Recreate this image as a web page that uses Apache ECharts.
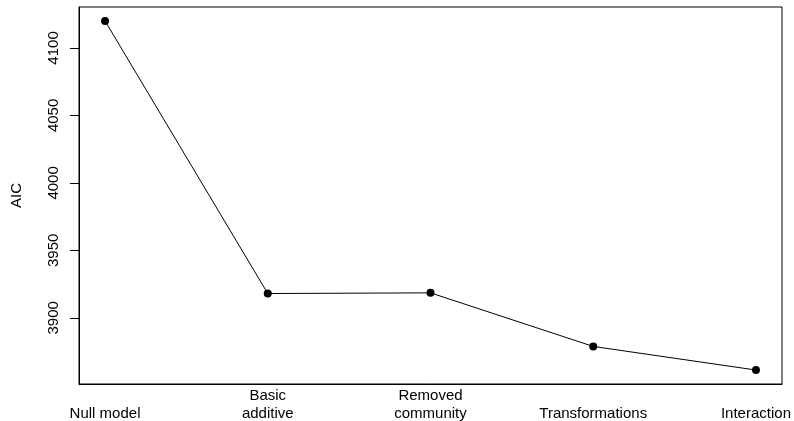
<!DOCTYPE html>
<html>
<head>
<meta charset="utf-8">
<script src="https://cdn.jsdelivr.net/npm/echarts@6/dist/echarts.min.js"></script>
<style>html,body{margin:0;padding:0;background:#fff;}#c{width:794px;height:421px;}</style>
</head>
<body>
<div id="c"></div>
<script>
const categories = ["Null model", "Basic\nadditive", "Removed\ncommunity", "Transformations", "Interaction"];
const aicValues = [4120.0, 3918.0, 3918.5, 3878.8, 3861.3];
const yTicks = [3900, 3950, 4000, 4050, 4100];

const FONT = "'Liberation Sans', Arial, sans-serif";
const chart = echarts.init(document.getElementById('c'), null, {renderer: 'canvas'});
const xIdx = categories.map((_, i) => i + 1);
const pad = 0.04 * (xIdx.length - 1);
const xMin = 1 - pad, xMax = xIdx.length + pad;
const yMinD = Math.min(...aicValues), yMaxD = Math.max(...aicValues);
const yPad = 0.04 * (yMaxD - yMinD);

chart.setOption({
  animation: false,
  backgroundColor: '#fff',
  grid: {left: 79, right: 12, top: 7, bottom: 37, show: true, borderColor: '#000', borderWidth: 1,
    backgroundColor: 'transparent', containLabel: false, outerBoundsMode: 'none'},
  xAxis: {
    type: 'value',
    min: xMin, max: xMax,
    axisLine: {show: true, onZero: false, lineStyle: {color: '#000', width: 1}},
    axisTick: {show: false},
    splitLine: {show: false},
    axisLabel: {
      customValues: xIdx,
      formatter: v => categories[Math.round(v) - 1],
      color: '#000', fontFamily: FONT, fontSize: 15, lineHeight: 18,
      verticalAlign: 'bottom', margin: 39, showMinLabel: true, showMaxLabel: true
    }
  },
  yAxis: {
    type: 'value',
    min: yMinD - yPad, max: yMaxD + yPad,
    name: 'AIC', nameLocation: 'middle', nameRotate: 90, nameGap: 55,
    nameTextStyle: {color: '#000', fontFamily: FONT, fontSize: 15},
    axisLine: {show: true, onZero: false, lineStyle: {color: '#000', width: 1}},
    splitLine: {show: false},
    axisTick: {show: true, customValues: yTicks, length: 9, lineStyle: {color: '#000', width: 1}},
    axisLabel: {customValues: yTicks, rotate: 90, margin: 18, color: '#000', fontFamily: FONT, fontSize: 15,
      formatter: v => String(v)}
  },
  series: [{
    type: 'line',
    data: xIdx.map((x, i) => [x, aicValues[i]]),
    symbol: 'circle', symbolSize: 8,
    itemStyle: {color: '#000'},
    lineStyle: {color: '#000', width: 1},
    emphasis: {disabled: true}
  }]
});

// Tick marks placed through the library's own coordinate conversion
const tickEls = yTicks.map(v => {
  const p = chart.convertToPixel({gridIndex: 0}, [xMin, v]);
  const x = Math.round(p[0]) + 0.5, y = Math.round(p[1]) + 0.5;
  return {type: 'line', z: 100, silent: true,
    shape: {x1: x - 9, y1: y, x2: x, y2: y},
    style: {stroke: '#000', lineWidth: 1}};
});
chart.setOption({graphic: {elements: tickEls}});
</script>
</body>
</html>
